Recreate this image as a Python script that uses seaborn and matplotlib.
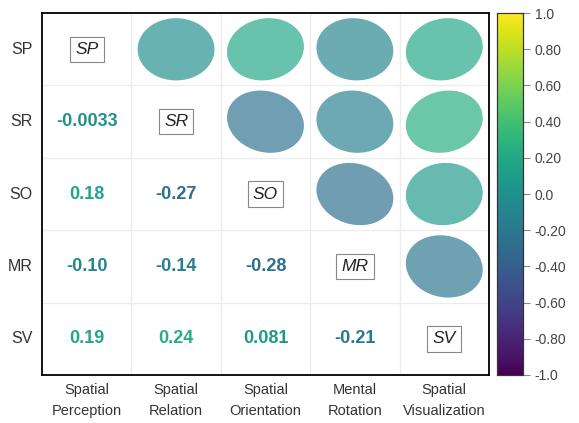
import numpy as np
import pandas as pd
import matplotlib
matplotlib.use("Agg")
import matplotlib.pyplot as plt
import seaborn as sns

abbr = ["SP", "SR", "SO", "MR", "SV"]
names = ["Spatial\nPerception", "Spatial\nRelation", "Spatial\nOrientation",
         "Mental\nRotation", "Spatial\nVisualization"]

# pairwise correlations (upper triangle, row-major)
pairs = [("SP", "SR", -0.0033), ("SP", "SO", 0.18), ("SP", "MR", -0.10),
         ("SP", "SV", 0.19), ("SR", "SO", -0.27), ("SR", "MR", -0.14),
         ("SR", "SV", 0.24), ("SO", "MR", -0.28), ("SO", "SV", 0.081),
         ("MR", "SV", -0.21)]
labels = ["-0.0033", "0.18", "-0.10", "0.19", "-0.27", "-0.14",
          "0.24", "-0.28", "0.081", "-0.21"]

corr = pd.DataFrame(np.eye(5), index=abbr, columns=abbr)
for a, b, r in pairs:
    corr.loc[a, b] = r
    corr.loc[b, a] = r
txt = {}
for (a, b, r), s in zip(pairs, labels):
    txt[(a, b)] = s

sns.set_style("white")
plt.rcParams["font.family"] = ["Liberation Sans", "DejaVu Sans"]

fig = plt.figure(figsize=(5.79, 4.23), dpi=100)
ax = fig.add_axes([0.0725, 0.1135, 0.772, 0.8555])
cax = fig.add_axes([0.858, 0.1135, 0.045, 0.8555])

cmap = plt.get_cmap("viridis")
norm = plt.Normalize(-1, 1)

# heatmap with every cell masked: gives axes + colourbar
sns.heatmap(corr, mask=np.ones_like(corr, dtype=bool), cmap="viridis",
            vmin=-1, vmax=1, ax=ax, cbar_ax=cax, square=False)

# grid lines between cells
for k in range(1, 5):
    ax.axhline(k, color="#ececec", lw=1, zorder=0)
    ax.axvline(k, color="#ececec", lw=1, zorder=0)
ax.set_xlim(0, 5)
ax.set_ylim(5, 0)

c = 0.43
t = np.linspace(0, 2 * np.pi, 200)
for i, a in enumerate(abbr):
    for j, b in enumerate(abbr):
        r = corr.loc[a, b]
        if i == j:
            ax.text(j + 0.5, i + 0.5, a, ha="center", va="center", fontsize=12.5,
                    style="italic", color="#222222",
                    bbox=dict(boxstyle="square,pad=0.3", fc="white", ec="#888888", lw=0.8))
        elif j > i:
            ma = c * np.sqrt(1 + 0.5 * abs(r))
            mi = c * np.sqrt(1 - 0.5 * abs(r))
            u = ma * np.cos(t)
            v = mi * np.sin(t)
            s = 1 if r >= 0 else -1
            x = (u - v) / np.sqrt(2)
            yd = s * (u + v) / np.sqrt(2)
            ax.fill(j + 0.5 + x, i + 0.5 - yd, color=cmap(norm(r)), alpha=0.68, lw=0)
        else:
            ax.text(j + 0.5, i + 0.5, txt[(b, a)], ha="center", va="center",
                    fontsize=13, fontweight="bold", color=cmap(norm(r)))

ax.set_xticks(np.arange(5) + 0.5)
ax.set_xticklabels(names, rotation=0, fontsize=10.5, color="#333333", linespacing=1.6)
ax.set_yticks(np.arange(5) + 0.5)
ax.set_yticklabels(abbr, rotation=0, fontsize=11.5, color="#333333")
ax.tick_params(axis="x", length=0, pad=6)
ax.tick_params(axis="y", length=0, pad=7)
for sp in ax.spines.values():
    sp.set_visible(True)
    sp.set_color("black")
    sp.set_linewidth(1.3)

ticks = [1.0, 0.8, 0.6, 0.4, 0.2, 0.0, -0.2, -0.4, -0.6, -0.8, -1.0]
tl = ["1.0", "0.80", "0.60", "0.40", "0.20", "0.0", "-0.20", "-0.40", "-0.60", "-0.80", "-1.0"]
cax.set_yticks(ticks)
cax.set_yticklabels(tl, fontsize=10, color="#444444")
cax.tick_params(length=5, color="#888888", width=0.8)
for sp in cax.spines.values():
    sp.set_visible(True)
    sp.set_color("#333333")
    sp.set_linewidth(0.8)

fig.savefig("out.png", dpi=100)
